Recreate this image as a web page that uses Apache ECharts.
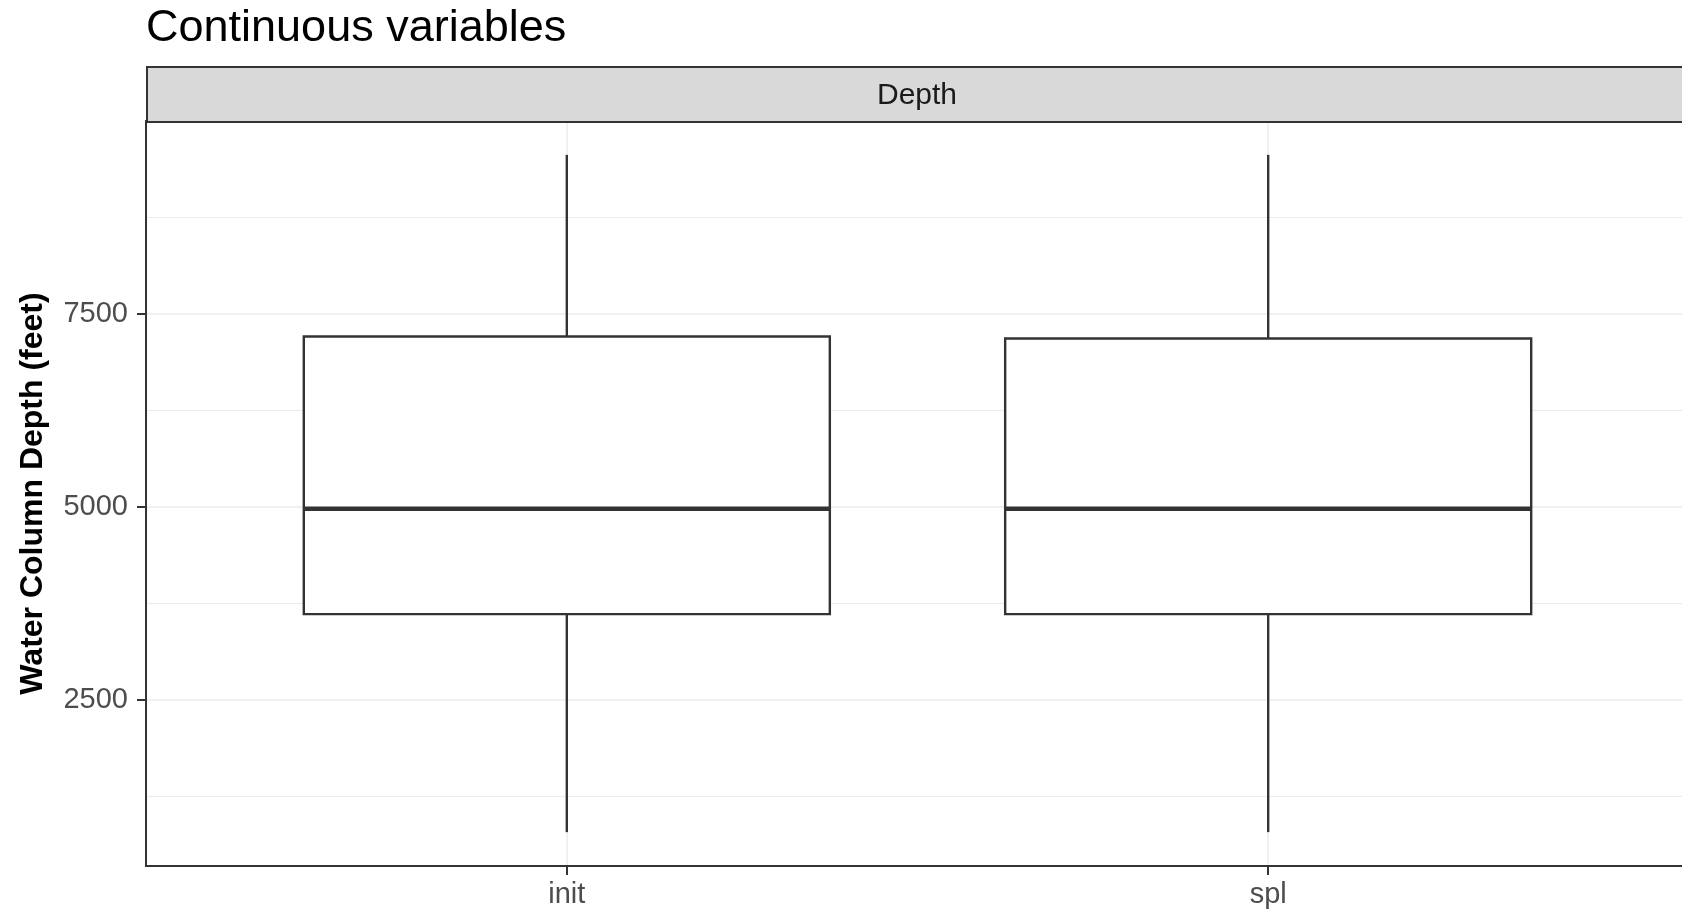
<!DOCTYPE html>
<html>
<head>
<meta charset="utf-8">
<title>Continuous variables</title>
<script src="https://cdn.jsdelivr.net/npm/echarts@6/dist/echarts.min.js"></script>
<style>
  html, body { margin: 0; padding: 0; background: #ffffff; }
  #chart { width: 1682px; height: 912px; }
</style>
</head>
<body>
<div id="chart"></div>
<script>
// Water column depth summary (feet) for each sample set
const categories   = ['init', 'spl'];
const whiskerLow   = [791, 791];
const quartile1    = [3613, 3613];
const medians      = [4979, 4979];
const quartile3    = [7207, 7182];
const whiskerHigh  = [9559, 9559];
const yMajorTicks  = [2500, 5000, 7500];
const yMinorLines  = [1250, 3750, 6250, 8750];
const facetLabel   = 'Depth';

const FONT = '"Liberation Sans", Arial, Helvetica, sans-serif';
const INK = '#333333';
const GRID = '#EBEBEB';

// Axis limits: data range widened by 5% on each side
const lo = Math.min(...whiskerLow), hi = Math.max(...whiskerHigh);
const pad = (hi - lo) * 0.05;
const yMin = lo - pad, yMax = hi + pad;

// Categories sit at 1..n on a continuous x scale with 0.6 of padding
const xPositions = categories.map((c, i) => i + 1);
const boxData = categories.map((c, i) => [
  xPositions[i], whiskerLow[i], quartile1[i], medians[i], quartile3[i], whiskerHigh[i]
]);

const chart = echarts.init(document.getElementById('chart'), null, { renderer: 'canvas' });

function renderBox(params, api) {
  const x = api.value(0);
  const pLow = api.coord([x, api.value(1)]);
  const pQ1 = api.coord([x, api.value(2)]);
  const pMed = api.coord([x, api.value(3)]);
  const pQ3 = api.coord([x, api.value(4)]);
  const pHigh = api.coord([x, api.value(5)]);
  const halfW = api.size([0.75, 0])[0] / 2;
  const cx = pMed[0];
  const lineStyle = { stroke: INK, lineWidth: 2.4, fill: null };
  return {
    type: 'group',
    children: [
      { type: 'line', shape: { x1: cx, y1: pQ3[1], x2: cx, y2: pHigh[1] }, style: lineStyle },
      { type: 'line', shape: { x1: cx, y1: pQ1[1], x2: cx, y2: pLow[1] }, style: lineStyle },
      {
        type: 'rect',
        shape: { x: cx - halfW, y: pQ3[1], width: halfW * 2, height: pQ1[1] - pQ3[1] },
        style: { fill: '#ffffff', stroke: INK, lineWidth: 2.4 }
      },
      {
        type: 'line',
        shape: { x1: cx - halfW, y1: pMed[1], x2: cx + halfW, y2: pMed[1] },
        style: { stroke: INK, lineWidth: 4.5 }
      }
    ]
  };
}

const option = {
  backgroundColor: '#ffffff',
  animation: false,
  title: {
    text: 'Continuous variables',
    left: 146,
    top: 6,
    padding: 0,
    textStyle: { fontFamily: FONT, fontSize: 45, fontWeight: 'normal', color: '#000000' }
  },
  grid: {
    left: 146,
    right: -7,
    top: 121,
    bottom: 46,
    outerBoundsMode: 'none',
    containLabel: false,
    show: true,
    borderColor: INK,
    borderWidth: 2,
    backgroundColor: '#ffffff'
  },
  xAxis: {
    type: 'value',
    min: 0.4,
    max: xPositions.length + 0.6,
    axisLine: { show: true, lineStyle: { color: INK, width: 2 } },
    axisTick: { show: true, length: 9, customValues: xPositions, lineStyle: { color: INK, width: 2 } },
    axisLabel: {
      customValues: xPositions,
      margin: 14,
      formatter: v => categories[Math.round(v) - 1],
      fontFamily: FONT, fontSize: 29, color: '#4D4D4D'
    },
    splitLine: { show: true, lineStyle: { color: GRID, width: 1.5 } }
  },
  yAxis: [
    {
      type: 'value',
      min: yMin,
      max: yMax,
      name: 'Water Column Depth (feet)',
      nameLocation: 'middle',
      nameGap: 97,
      nameTextStyle: { fontFamily: FONT, fontSize: 32, fontWeight: 'bold', color: '#000000' },
      axisLine: { show: true, lineStyle: { color: INK, width: 2 } },
      axisTick: { show: true, length: 9, customValues: yMajorTicks, lineStyle: { color: INK, width: 2 } },
      axisLabel: {
        customValues: yMajorTicks,
        margin: 18,
        formatter: v => String(Math.round(v)),
        fontFamily: FONT, fontSize: 29, color: '#4D4D4D'
      },
      splitLine: { show: true, lineStyle: { color: GRID, width: 1.5 } }
    },
    {
      type: 'value',
      min: yMin,
      max: yMax,
      position: 'left',
      axisLine: { show: false },
      axisTick: { show: false, customValues: yMinorLines },
      axisLabel: { show: false, customValues: yMinorLines },
      splitLine: { show: true, lineStyle: { color: GRID, width: 1.2 } }
    }
  ],
  graphic: [
    {
      type: 'rect',
      left: 146,
      top: 66,
      z: 10,
      shape: { width: 1560, height: 55 },
      style: { fill: '#D9D9D9', stroke: INK, lineWidth: 2 }
    },
    {
      type: 'text',
      x: 917,
      y: 96,
      z: 11,
      style: {
        text: facetLabel,
        align: 'center',
        verticalAlign: 'middle',
        font: '30px ' + FONT,
        fill: '#1A1A1A'
      }
    }
  ],
  series: [
    {
      type: 'custom',
      name: 'Depth',
      xAxisIndex: 0,
      yAxisIndex: 0,
      renderItem: renderBox,
      encode: { x: 0, y: [1, 2, 3, 4, 5] },
      data: boxData,
      z: 5
    }
  ]
};

chart.setOption(option);
</script>
</body>
</html>
